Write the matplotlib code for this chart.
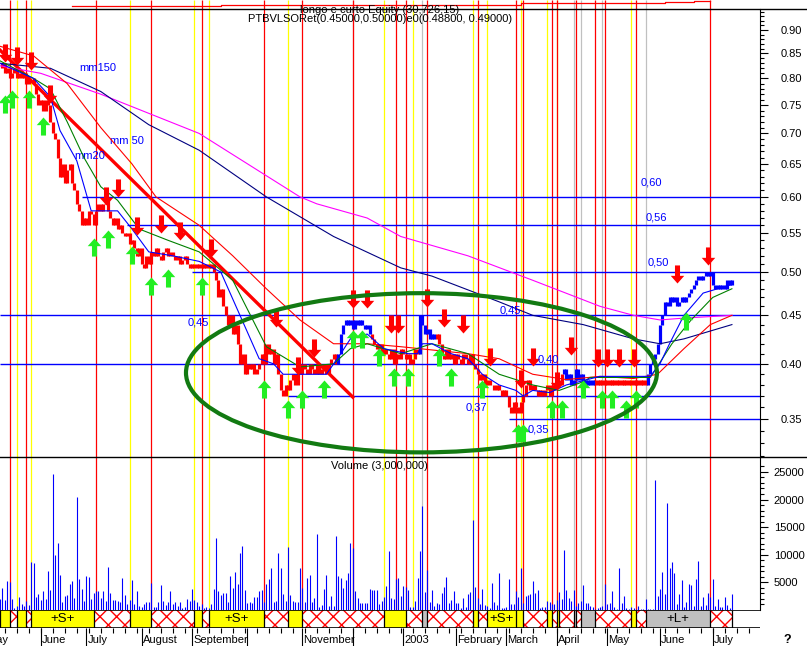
import numpy as np
import matplotlib
matplotlib.use("Agg")
import matplotlib.pyplot as plt
from matplotlib.patches import Ellipse, Rectangle
from matplotlib.path import Path
from matplotlib.ticker import FixedLocator, NullFormatter, NullLocator

plt.rcParams['font.family'] = ['Liberation Sans', 'DejaVu Sans']
plt.rcParams['hatch.linewidth'] = 1.0

# daily closes (trading day index 0..305)
close = [
    0.82, 0.83, 0.81, 0.82, 0.80, 0.81, 0.82, 0.80, 0.81, 0.80,
    0.81, 0.79, 0.80, 0.80, 0.79, 0.77, 0.75, 0.76, 0.74, 0.76,
    0.75, 0.72, 0.70, 0.69, 0.66, 0.63, 0.65, 0.62, 0.64, 0.65,
    0.62, 0.61, 0.59, 0.58, 0.56, 0.57, 0.56, 0.58, 0.575, 0.56,
    0.58, 0.59, 0.58, 0.59, 0.60, 0.58, 0.57, 0.56, 0.57, 0.555,
    0.56, 0.55, 0.545, 0.55, 0.535, 0.54, 0.53, 0.52, 0.53, 0.51,
    0.505, 0.52, 0.51, 0.525, 0.52, 0.53, 0.52, 0.515, 0.525, 0.53,
    0.52, 0.525, 0.52, 0.515, 0.52, 0.51, 0.515, 0.52, 0.51, 0.505,
    0.51, 0.505, 0.51, 0.505, 0.51, 0.505, 0.51, 0.505, 0.51, 0.50,
    0.49, 0.47, 0.48, 0.46, 0.45, 0.44, 0.45, 0.43, 0.44, 0.42,
    0.40, 0.41, 0.39, 0.40, 0.395, 0.40, 0.39, 0.395, 0.40, 0.41,
    0.40, 0.42, 0.41, 0.415, 0.40, 0.41, 0.39, 0.375, 0.37, 0.38,
    0.375, 0.385, 0.39, 0.38, 0.395, 0.39, 0.40, 0.395, 0.39, 0.40,
    0.395, 0.39, 0.40, 0.39, 0.395, 0.40, 0.39, 0.40, 0.405, 0.41,
    0.40, 0.41, 0.43, 0.44, 0.445, 0.44, 0.445, 0.435, 0.445, 0.44,
    0.445, 0.44, 0.435, 0.44, 0.43, 0.425, 0.42, 0.415, 0.42, 0.41,
    0.415, 0.41, 0.405, 0.415, 0.40, 0.41, 0.405, 0.415, 0.41, 0.405,
    0.41, 0.40, 0.405, 0.415, 0.41, 0.45, 0.44, 0.43, 0.435, 0.425,
    0.43, 0.425, 0.43, 0.42, 0.41, 0.405, 0.415, 0.405, 0.41, 0.40,
    0.41, 0.405, 0.40, 0.41, 0.405, 0.40, 0.41, 0.40, 0.395, 0.39,
    0.385, 0.39, 0.38, 0.385, 0.38, 0.38, 0.375, 0.38, 0.375, 0.37,
    0.375, 0.37, 0.36, 0.355, 0.365, 0.36, 0.355, 0.365, 0.37, 0.38,
    0.385, 0.375, 0.38, 0.375, 0.37, 0.375, 0.37, 0.375, 0.38, 0.37,
    0.375, 0.38, 0.385, 0.38, 0.39, 0.395, 0.385, 0.39, 0.38, 0.385,
    0.395, 0.385, 0.39, 0.38, 0.385, 0.38, 0.385, 0.38, 0.385, 0.38,
    0.385, 0.38, 0.385, 0.38, 0.385, 0.38, 0.385, 0.38, 0.385, 0.38,
    0.385, 0.38, 0.385, 0.38, 0.385, 0.38, 0.385, 0.38, 0.385, 0.38,
    0.39, 0.40, 0.405, 0.41, 0.42, 0.44, 0.45, 0.465, 0.46, 0.47,
    0.465, 0.47, 0.46, 0.465, 0.47, 0.465, 0.47, 0.475, 0.48, 0.485,
    0.49, 0.495, 0.49, 0.495, 0.50, 0.495, 0.50, 0.485, 0.48, 0.485,
    0.48, 0.485, 0.48, 0.49, 0.485, 0.49,
]
blue_spans = [(141, 154), (175, 181), (235, 247), (270, 305)]

volume = [
    1960, 3990, 1800, 5200, 5060, 1960, 400, 800, 2300, 1070,
    800, 1670, 900, 8750, 8570, 2320, 2860, 1790, 3390, 1960,
    7140, 3690, 24700, 10000, 12140, 6250, 1500, 2500, 2680, 4760,
    5240, 2260, 20530, 5530, 3870, 1600, 6070, 5950, 2080, 3100,
    3400, 3400, 2200, 3400, 1670, 7850, 3100, 1790, 1790, 1670,
    1370, 5710, 2680, 1070, 1790, 5360, 1000, 3400, 710, 600,
    1070, 1490, 1490, 4880, 480, 480, 1490, 4460, 1670, 890,
    1490, 3400, 1070, 1490, 770, 1490, 420, 600, 2080, 1670,
    3870, 1790, 1490, 770, 1010, 300, 600, 420, 1010, 3870,
    13090, 3400, 2800, 3100, 3100, 1490, 6130, 4050, 6840, 4760,
    10400, 11600, 3570, 1310, 1490, 1190, 2380, 2380, 3400, 3570,
    1490, 4640, 5650, 7560, 1490, 1670, 10230, 7560, 2980, 1670,
    11480, 2680, 1670, 1490, 1490, 7560, 3990, 1490, 5830, 6370,
    1490, 2260, 13690, 600, 900, 3750, 6370, 770, 2500, 770,
    13390, 6070, 5830, 3990, 5360, 6660, 12080, 11190, 3400, 2260,
    1190, 1190, 1190, 1200, 3750, 3570, 3570, 3570, 1070, 1670,
    2380, 4280, 10710, 2260, 1960, 5650, 5830,
    2560, 4280, 4160, 3690, 600, 600, 1670, 5770, 10710, 18740,
    3270, 7320, 1490, 3570, 770, 1310, 1070, 3100, 4160, 5890,
    1310, 1790, 3450, 1310, 1310, 300, 2200, 600, 2860, 3270,
    16240, 4160, 2200, 1010, 3750, 890, 710, 300, 4880, 1490,
    890, 6660, 300, 420, 600, 5530, 1070, 1070, 3400, 2380,
    7560, 1190, 2500, 2680, 2980, 5180, 3100, 3570, 300, 480,
    600, 1670, 1490, 1010, 1070, 1900, 3270, 1960, 10890, 3690,
    2200, 1670, 3570, 710, 1190, 1670, 4460, 1310, 1190, 710,
    600, 200, 300, 600, 710, 4760, 1070, 1310, 3400, 600,
    100, 7680, 1190, 2560, 420, 120, 600, 300, 100, 770,
    100, 100, 1960, 100, 100, 100, 23620, 2560, 3870, 6840,
    2980, 19340, 7560, 8630, 6720, 1070, 2980, 5470, 600, 1490,
    4640, 4460, 710, 5650, 8810, 770, 2380, 890, 3100, 2380,
    5530, 710, 1960, 600, 600, 2380, 890, 420, 2860,
]

# moving averages (sampled points)
ma10_x = [0, 14, 21, 25, 32, 38, 42, 49, 55, 62, 72, 83, 92, 100, 108, 114, 118, 125, 136, 142, 146, 153,
          160, 170, 174, 176, 180, 188, 195, 201, 208, 215, 218, 222, 229, 236, 250, 271, 275, 279, 285, 293, 305]
ma10_y = [0.83, 0.80, 0.765, 0.705, 0.655, 0.58, 0.58, 0.58, 0.555, 0.525, 0.52, 0.513, 0.50, 0.45, 0.405,
          0.40, 0.39, 0.39, 0.39, 0.41, 0.425, 0.43, 0.415, 0.41, 0.41, 0.42, 0.42, 0.41, 0.405, 0.39, 0.38,
          0.375, 0.37, 0.375, 0.373, 0.38, 0.388, 0.388, 0.40, 0.42, 0.45, 0.475, 0.485]
ma20_x = [0, 14, 21, 28, 35, 42, 49, 58, 70, 83, 97, 111, 125, 139, 146, 153, 167, 180, 195, 208, 222, 233,
          243, 246, 271, 280, 288, 297, 305]
ma20_y = [0.835, 0.80, 0.78, 0.72, 0.66, 0.615, 0.595, 0.555, 0.54, 0.525, 0.49, 0.417, 0.397, 0.40, 0.415,
          0.42, 0.41, 0.42, 0.41, 0.39, 0.38, 0.375, 0.383, 0.387, 0.387, 0.42, 0.445, 0.47, 0.48]
ma50_x = [0, 14, 28, 42, 55, 65, 83, 97, 111, 125, 139, 153, 167, 195, 208, 222, 236, 250, 264, 274, 285, 296, 305]
ma50_y = [0.865, 0.845, 0.79, 0.71, 0.65, 0.60, 0.56, 0.52, 0.48, 0.445, 0.42, 0.42, 0.417, 0.41, 0.405,
          0.39, 0.385, 0.388, 0.386, 0.39, 0.415, 0.44, 0.45]
ma100_x = [0, 21, 42, 62, 83, 111, 139, 167, 180, 208, 222, 243, 264, 275, 285, 305]
ma100_y = [0.83, 0.82, 0.775, 0.715, 0.672, 0.60, 0.545, 0.505, 0.495, 0.465, 0.45, 0.44, 0.425, 0.42, 0.425, 0.44]
ma150_x = [0, 17, 42, 62, 83, 125, 132, 153, 167, 195, 222, 250, 264, 275, 285, 305]
ma150_y = [0.825, 0.81, 0.77, 0.735, 0.70, 0.60, 0.59, 0.57, 0.545, 0.52, 0.49, 0.46, 0.45, 0.445, 0.447, 0.45]

# signals
sell_x = [2, 7, 13, 21, 44, 49, 57, 67, 75, 88, 115, 124, 131, 147, 153, 163, 166, 178, 185, 193,
          204, 217, 222, 232, 238, 249, 253, 258, 264, 282, 295]
sell_y = [0.833, 0.827, 0.817, 0.754, 0.588, 0.600, 0.547, 0.550, 0.540, 0.519, 0.437, 0.389, 0.407,
          0.458, 0.458, 0.431, 0.431, 0.459, 0.437, 0.431, 0.398, 0.377, 0.398, 0.375, 0.409, 0.397,
          0.397, 0.397, 0.397, 0.487, 0.509]
buy_x = [2, 5, 12, 18, 39, 45, 55, 63, 70, 84, 110, 120, 126, 135, 147, 151, 158, 164, 170, 183, 188,
         201, 216, 218, 230, 234, 243, 251, 255, 261, 265, 286]
buy_y = [0.769, 0.778, 0.778, 0.729, 0.543, 0.554, 0.533, 0.494, 0.504, 0.494, 0.385, 0.366, 0.375,
         0.385, 0.434, 0.434, 0.416, 0.396, 0.396, 0.416, 0.396, 0.385, 0.346, 0.346, 0.366, 0.366,
         0.385, 0.375, 0.375, 0.366, 0.375, 0.454]

# event lines
red_lines = [4, 11, 40, 63, 84, 110, 126, 147, 165, 169, 178, 199, 215, 218, 230, 232, 240, 248, 252, 265, 296]
yellow_lines = [7, 13, 54, 81, 87, 120, 160, 172, 197, 203, 217, 228, 232, 263]
gray_lines = [147, 176, 239, 242, 251, 269]

# support / resistance levels
levels = [0.60, 0.56, 0.50, 0.45, 0.40, 0.37, 0.35]
level_start = [34, 53, 80, 0, 0, 120, 212]
level_text = ['0,60', '0,56', '0,50', '0,45', '0,45', '0,40', '0,37', '0,35']
level_text_x = [267, 269, 270, 78, 208, 224, 194, 220]
level_text_y = [0.6206, 0.5714, 0.5122, 0.4427, 0.4558, 0.4046, 0.3601, 0.3414]

trend_x = [0, 147]
trend_y = [0.857, 0.369]

# green ellipse (left, right index; top, bottom price)
ell_x = [77.5, 273.75]
ell_y = [0.4749, 0.3226]

# signal bands
band_start = [0, 4, 7, 11, 13, 39, 54, 63, 81, 84, 87, 110, 120, 126, 160, 169, 176, 178, 197, 199, 203, 215,
              218, 228, 230, 232, 233, 239, 240, 242, 248, 263, 265, 269, 296]
band_end = [4, 7, 11, 13, 39, 54, 63, 81, 84, 87, 110, 120, 126, 160, 169, 176, 178, 197, 199, 203, 215, 218,
            228, 230, 232, 233, 239, 240, 242, 248, 263, 265, 269, 296, 305]
band_kind = ['Y', 'H', 'Y', 'H', 'Y', 'H', 'Y', 'H', 'Y', 'H', 'Y', 'H', 'Y', 'H', 'Y', 'H', 'G', 'H', 'Y', 'H',
             'Y', 'Y', 'H', 'Y', 'H', 'Y', 'H', 'G', 'H', 'G', 'H', 'Y', 'H', 'G', 'H']
band_label = {4: '+S+', 10: '+S+', 20: '+S+', 33: '+L+'}

month_x = [-6, 17, 36, 59, 80, 103, 126, 147, 168, 190, 211, 232, 253, 275, 297]
month_lab = ['May', 'June', 'July', 'August', 'September', '', 'November', '', '2003',
             'February', 'March', 'April', 'May', 'June', 'July']

eq_x = [30, 92, 217, 277, 289, 296]
eq_y = [3, 4, 6, 6.7, 8, 8]

W, H = 807, 646
x_right = 316.7


def fy(px):
    return 1 - px / H


fig = plt.figure(figsize=(W / 100, H / 100), dpi=100)
aw = 760 / W
ax_eq = fig.add_axes([0, fy(9), aw, 9 / H])
ax = fig.add_axes([0, fy(457), aw, 448 / H])
axv = fig.add_axes([0, fy(610), aw, 153 / H])
axb = fig.add_axes([0, fy(628), aw, 18 / H])
axt = fig.add_axes([0, 0, aw, 18 / H])

for a in (ax_eq, ax, axv, axb, axt):
    a.set_xlim(0, x_right)
    a.xaxis.set_major_locator(NullLocator())
    for s in a.spines.values():
        s.set_visible(False)

for a in (ax_eq, ax, axv, axb):
    a.vlines(yellow_lines, 0, 1, transform=a.get_xaxis_transform(), color='#ffff00', lw=0.9, zorder=1)
    a.vlines(gray_lines, 0, 1, transform=a.get_xaxis_transform(), color='#c0c0c0', lw=0.9, zorder=1)
    a.vlines(red_lines, 0, 1, transform=a.get_xaxis_transform(), color='#ff0000', lw=0.9, zorder=1)

# equity strip
ax_eq.set_ylim(0, 9)
ax_eq.set_yticks([])
ax_eq.plot(eq_x, eq_y, color='#ff0000', lw=0.9, drawstyle='steps-post')

# price panel
ax.set_yscale('log')
ax.set_ylim(0.319, 0.947)
ax.hlines(levels, level_start, x_right, color='#0000ff', lw=1.0, zorder=2)
ax.plot(trend_x, trend_y, color='#ff0000', lw=2.4, zorder=3)

idx = np.arange(len(close))
opens = np.array([close[0]] + close[:-1])
cl = np.array(close)
lo = np.minimum(opens, cl)
hi = np.maximum(opens, cl)
is_blue = np.zeros(len(close), bool)
for a0, b0 in blue_spans:
    is_blue[a0:b0 + 1] = True
ax.vlines(idx[~is_blue], lo[~is_blue], hi[~is_blue], color='#ff0000', lw=2.3, zorder=3)
ax.vlines(idx[is_blue], lo[is_blue], hi[is_blue], color='#0000ff', lw=2.3, zorder=3)

ax.plot(ma150_x, ma150_y, color='#ff00ff', lw=0.8, zorder=4)
ax.plot(ma100_x, ma100_y, color='#000080', lw=0.8, zorder=4)
ax.plot(ma50_x, ma50_y, color='#ff0000', lw=0.8, zorder=4)
ax.plot(ma20_x, ma20_y, color='#008000', lw=0.8, zorder=4)
ax.plot(ma10_x, ma10_y, color='#0000ff', lw=0.8, zorder=4)

up = Path([(0, 0), (0.75, -0.85), (0.28, -0.85), (0.28, -2), (-0.28, -2), (-0.28, -0.85), (-0.75, -0.85), (0, 0)],
          closed=True)
down = Path(up.vertices * [1, -1], closed=True)
ax.plot(sell_x, sell_y, ls='none', marker=down, ms=26, color='#ff0000', mew=0, zorder=5)
ax.plot(buy_x, buy_y, ls='none', marker=up, ms=26, color='#22ee22', mew=0, zorder=5)

for s, tx, ty in zip(level_text, level_text_x, level_text_y):
    ax.text(tx, ty, s, color='#0000ff', fontsize=8, va='center', ha='left', zorder=6)
ax.text(33, 0.8206, 'mm150', color='#0000ff', fontsize=8, va='center')
ax.text(46, 0.6872, 'mm 50', color='#0000ff', fontsize=8, va='center')
ax.text(31, 0.6627, 'mm20', color='#0000ff', fontsize=8, va='center')

ticks = [0.35, 0.40, 0.45, 0.50, 0.55, 0.60, 0.65, 0.70, 0.75, 0.80, 0.85, 0.90]
ax.yaxis.set_major_locator(FixedLocator(ticks))
ax.yaxis.set_minor_locator(FixedLocator([v / 100 for v in range(32, 95)]))
ax.yaxis.set_minor_formatter(NullFormatter())
ax.set_yticklabels(['%.2f' % t for t in ticks])
ax.yaxis.tick_right()
ax.tick_params(axis='y', which='major', length=6, width=0.8, pad=9, labelsize=8)
ax.tick_params(axis='y', which='minor', length=3, width=0.8)
ax.spines['right'].set_visible(True)

# ellipse drawn in pixel space from its data extents
p0 = ax.transData.transform((ell_x[0], ell_y[1]))
p1 = ax.transData.transform((ell_x[1], ell_y[0]))
f0 = fig.transFigure.inverted().transform(p0)
f1 = fig.transFigure.inverted().transform(p1)
ax.add_patch(Ellipse(((f0[0] + f1[0]) / 2, (f0[1] + f1[1]) / 2), f1[0] - f0[0], f1[1] - f0[1],
                     transform=fig.transFigure, fill=False, edgecolor='#127a12', lw=3.0, zorder=5))

# volume panel
axv.set_ylim(0, 27700)
axv.vlines(np.arange(len(volume)), 0, volume, color='#0000ff', lw=0.8, zorder=2)
axv.yaxis.tick_right()
axv.set_yticks([5000, 10000, 15000, 20000, 25000])
axv.set_yticks(range(1000, 27000, 1000), minor=True)
axv.tick_params(axis='y', which='major', length=6, width=0.8, pad=4, labelsize=8)
axv.tick_params(axis='y', which='minor', length=3, width=0.8)
axv.spines['right'].set_visible(True)
axv.text(0.435, 0.94, 'Volume (3,000,000)', transform=axv.transAxes, fontsize=8, ha='left', va='center')

# signal bands
axb.set_ylim(0, 1)
axb.set_yticks([])
for k, (s, e, kind) in enumerate(zip(band_start, band_end, band_kind)):
    if kind == 'H':
        axb.add_patch(Rectangle((s, 0), e - s, 1, facecolor='white', edgecolor='#ff0000', hatch='xx', lw=0,
                                zorder=2))
    else:
        axb.add_patch(Rectangle((s, 0), e - s, 1, facecolor='#ffff00' if kind == 'Y' else '#c0c0c0', lw=0,
                                zorder=2))
    if k in band_label:
        axb.text((s + e) / 2, 0.5, band_label[k], ha='center', va='center', fontsize=9.5, zorder=4)
axb.vlines(band_start + [band_end[-1]], 0, 1, color='black', lw=0.9, zorder=3)
axb.axhline(1, color='black', lw=1.2, zorder=3)
axb.axhline(0, color='black', lw=1.2, zorder=3)

# time axis
axt.set_ylim(0, 1)
axt.set_yticks([])
axt.vlines(range(2, 317, 5), 0.72, 1, color='black', lw=0.8)
axt.vlines(month_x, 0, 1, color='black', lw=0.8)
for mx, ml in zip(month_x, month_lab):
    axt.text(mx + 0.5, 0.35, ml, fontsize=8, ha='left', va='center', clip_on=False)

# frame lines and header text
fig.add_artist(plt.Line2D([0, 1], [fy(9), fy(9)], color='black', lw=1.0))
fig.add_artist(plt.Line2D([0, 1], [fy(457), fy(457)], color='black', lw=1.0))
fig.text(300 / W, fy(10), 'longo e curto Equity (30,726,15)', fontsize=8, va='center')
fig.text(248 / W, fy(19), 'PTBVLSORet(0.45000,0.50000)e0(0.48800, 0.49000)', fontsize=8, va='center')
fig.text(783 / W, fy(640), '?', fontsize=9, fontweight='bold', va='center')

fig.savefig('out.png', dpi=100, facecolor='white')
